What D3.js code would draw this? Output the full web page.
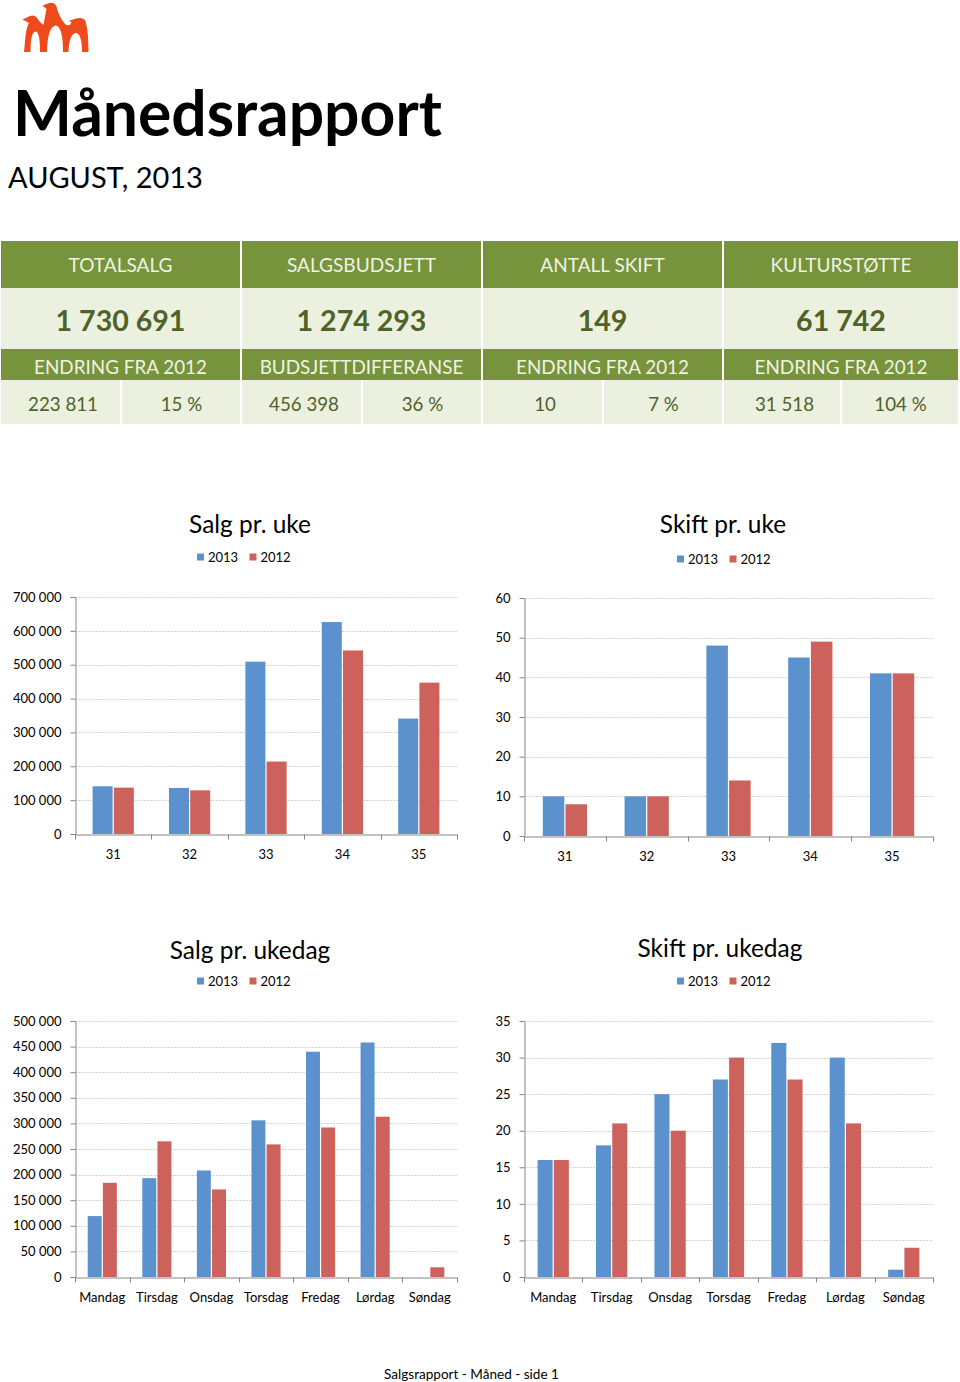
<!DOCTYPE html>
<html><head><meta charset="utf-8">
<script src="https://cdn.jsdelivr.net/npm/d3@7"></script>
<style>html,body{margin:0;padding:0;background:#fff;} svg{display:block;font-family:Lato,'Open Sans',sans-serif;}</style>
</head><body><svg id="c" width="960" height="1382"></svg>
<script>
// ---------- data ----------
const reportTitle = "Månedsrapport";
const reportSubtitle = "AUGUST, 2013";
const kpiHeaders = ["TOTALSALG", "SALGSBUDSJETT", "ANTALL SKIFT", "KULTURSTØTTE"];
const kpiValues = ["1 730 691", "1 274 293", "149", "61 742"];
const kpiSubHeaders = ["ENDRING FRA 2012", "BUDSJETTDIFFERANSE", "ENDRING FRA 2012", "ENDRING FRA 2012"];
const kpiSubValuesA = ["223 811", "456 398", "10", "31 518"];
const kpiSubValuesB = ["15 %", "36 %", "7 %", "104 %"];

const seriesNames = ["2013", "2012"];
const weeks = ["31", "32", "33", "34", "35"];
const salgUke2013 = [141000, 136000, 509000, 626000, 341000];
const salgUke2012 = [137000, 129000, 214000, 542000, 447000];
const salgUkeTicks = [0, 100000, 200000, 300000, 400000, 500000, 600000, 700000];
const skiftUke2013 = [10, 10, 48, 45, 41];
const skiftUke2012 = [8, 10, 14, 49, 41];
const skiftUkeTicks = [0, 10, 20, 30, 40, 50, 60];

const days = ["Mandag", "Tirsdag", "Onsdag", "Torsdag", "Fredag", "Lørdag", "Søndag"];
const salgDag2013 = [119000, 193000, 208000, 306000, 440000, 458000, 0];
const salgDag2012 = [184000, 265000, 171000, 259000, 292000, 313000, 19000];
const salgDagTicks = [0, 50000, 100000, 150000, 200000, 250000, 300000, 350000, 400000, 450000, 500000];
const skiftDag2013 = [16, 18, 25, 27, 32, 30, 1];
const skiftDag2012 = [16, 21, 20, 30, 27, 21, 4];
const skiftDagTicks = [0, 5, 10, 15, 20, 25, 30, 35];

const footerText = "Salgsrapport - Måned - side 1";

// ---------- setup ----------
const svg = d3.select("#c");
svg.append("rect").attr("width", 960).attr("height", 1382).attr("fill", "#fff");
const loc = d3.formatLocale({decimal: ",", thousands: " ", grouping: [3], currency: ["", ""]});
const fmt = loc.format(",d");
const C13 = "#5B92CD", C12 = "#CD625C";
const GREEN = "#77933C", LIGHT = "#EBF1DE", DARK = "#4F6228";

function fitSize(text, weight, targetW) {
  const t = svg.append("text").attr("font-size", 20).attr("font-weight", weight).text(text);
  const w = t.node().getComputedTextLength();
  t.remove();
  return 20 * targetW / w;
}

// ---------- logo ----------
svg.append("path")
  .attr("fill", "#EF4A1E")
  .attr("d", "M24,52 L25.5,36 Q26.5,27 29,23 L22.5,19.5 L30,16 Q35,14.5 37.5,18.5 Q40,23 43.5,25 Q45,16 46.5,9 L42.5,5.5 L49.5,3 Q54.5,2 56.5,6.5 Q59,17 65,24 Q67,26 70,25 Q71,23 71.5,22 L68.5,21 L76,18.5 Q83,17 85.5,21 Q87.5,28 88,36 L88.5,52 L82,52 Q82,34 76,33 Q69,34 68.5,52 L63,52 Q63,26 55.5,25.5 Q47.5,27 47,52 L40,52 Q40,31.5 35.5,31.5 Q30.5,32 30.5,52 Z");

// ---------- titles ----------
svg.append("text").attr("x", 13).attr("y", 136).attr("font-weight", 700)
  .attr("font-size", fitSize(reportTitle, 700, 429)).attr("fill", "#000").text(reportTitle);
svg.append("text").attr("x", 8).attr("y", 188).attr("font-weight", 400)
  .attr("font-size", fitSize(reportSubtitle, 400, 195)).attr("fill", "#000").text(reportSubtitle);

// ---------- KPI table ----------
const cols = [[1, 240], [242, 481], [483, 722], [724, 958]];
const tb = svg.append("g");
const hdrFs = fitSize(kpiHeaders[0], 400, 104);
const valFs = fitSize(kpiValues[0], 700, 130);
const subFs = fitSize(kpiSubHeaders[0], 400, 173);
const botFs = fitSize(kpiSubValuesA[0], 400, 70);
cols.forEach((c, i) => {
  const [a, b] = c, cx = (a + b) / 2, mid = Math.round(cx);
  tb.append("rect").attr("x", a).attr("y", 241).attr("width", b - a).attr("height", 47).attr("fill", GREEN);
  tb.append("rect").attr("x", a).attr("y", 288).attr("width", b - a).attr("height", 61).attr("fill", LIGHT);
  tb.append("rect").attr("x", a).attr("y", 349).attr("width", b - a).attr("height", 31).attr("fill", GREEN);
  tb.append("rect").attr("x", a).attr("y", 380).attr("width", mid - a - 1).attr("height", 44).attr("fill", LIGHT);
  tb.append("rect").attr("x", mid + 1).attr("y", 380).attr("width", b - mid - 1).attr("height", 44).attr("fill", LIGHT);
  tb.append("text").attr("x", cx).attr("y", 272).attr("text-anchor", "middle").attr("font-size", hdrFs)
    .attr("fill", "#EEF3E4").text(kpiHeaders[i]);
  tb.append("text").attr("x", cx).attr("y", 331).attr("text-anchor", "middle").attr("font-size", valFs)
    .attr("font-weight", 700).attr("fill", DARK).text(kpiValues[i]);
  tb.append("text").attr("x", cx).attr("y", 374).attr("text-anchor", "middle").attr("font-size", subFs)
    .attr("fill", "#EEF3E4").text(kpiSubHeaders[i]);
  tb.append("text").attr("x", (a + mid) / 2 + 2).attr("y", 411).attr("text-anchor", "middle").attr("font-size", botFs)
    .attr("fill", DARK).text(kpiSubValuesA[i]);
  tb.append("text").attr("x", (mid + b) / 2 + 1).attr("y", 411).attr("text-anchor", "middle").attr("font-size", botFs)
    .attr("fill", DARK).text(kpiSubValuesB[i]);
});

// ---------- charts ----------
const chartTitleFs = fitSize("Salg pr. uke", 400, 122);

function barChart(cfg) {
  const g = svg.append("g");
  const y = d3.scaleLinear().domain([0, d3.max(cfg.ticks)]).range([cfg.y0, cfg.yTop]);
  const x = d3.scaleBand().domain(cfg.cats).range([cfg.x0, cfg.x1]).padding(0);
  const bw = x.bandwidth(), gap = bw * 0.8 / 3.6;
  const xs = d3.scaleBand().domain(seriesNames).range([gap, bw - gap]).padding(0);

  // title + legend
  g.append("text").attr("x", cfg.tx).attr("y", cfg.ty).attr("text-anchor", "middle")
    .attr("font-size", chartTitleFs).attr("fill", "#000").text(cfg.title);
  const lg = g.append("g").attr("transform", `translate(${cfg.lx},${cfg.ly})`);
  [[0, C13, seriesNames[0]], [52.5, C12, seriesNames[1]]].forEach(([dx, col, nm]) => {
    lg.append("rect").attr("x", dx).attr("y", -3.5).attr("width", 7).attr("height", 7).attr("fill", col);
    lg.append("text").attr("x", dx + 11).attr("y", 5).attr("font-size", 13).attr("fill", "#000").text(nm);
  });

  // gridlines
  g.selectAll("line.grid").data(cfg.ticks.filter(t => t > 0)).join("line")
    .attr("class", "grid").attr("x1", cfg.x0).attr("x2", cfg.x1)
    .attr("y1", d => Math.round(y(d)) + 0.5).attr("y2", d => Math.round(y(d)) + 0.5)
    .attr("stroke", "#D4D4D4").attr("stroke-width", 1).attr("stroke-dasharray", "2,1");

  // bars
  const rows = cfg.cats.map((c, i) => ({c, vals: [{k: seriesNames[0], v: cfg.a[i]}, {k: seriesNames[1], v: cfg.b[i]}]}));
  g.selectAll("g.cat").data(rows).join("g").attr("class", "cat")
    .attr("transform", d => `translate(${x(d.c)},0)`)
    .selectAll("rect").data(d => d.vals.filter(v => v.v > 0)).join("rect")
    .attr("x", d => xs(d.k) + 0.6).attr("width", xs.bandwidth() - 1.2)
    .attr("y", d => y(d.v)).attr("height", d => y(0) - y(d.v))
    .attr("fill", d => d.k === seriesNames[0] ? C13 : C12);

  // y axis
  const ya = g.append("g").attr("transform", `translate(${cfg.x0 + 0.5},0)`)
    .call(d3.axisLeft(y).tickValues(cfg.ticks).tickFormat(cfg.fmt).tickSize(5).tickSizeOuter(0).tickPadding(9));
  ya.selectAll("path,line").attr("stroke", "#868686");
  ya.selectAll("text").attr("font-size", 13).attr("font-family", "Lato").attr("fill", "#000");

  // x axis
  const xa = g.append("g").attr("transform", `translate(0,${Math.round(y(0)) + 0.5})`)
    .call(d3.axisBottom(x).tickSize(0).tickPadding(15).tickSizeOuter(0));
  xa.select(".domain").attr("stroke", "#868686");
  xa.selectAll("text").attr("font-size", 13).attr("font-family", "Lato").attr("fill", "#000");
  const bounds = cfg.cats.map(c => x(c)).concat([cfg.x1]);
  xa.selectAll("line.bt").data(bounds).join("line").attr("class", "bt")
    .attr("x1", d => Math.round(d) + 0.5).attr("x2", d => Math.round(d) + 0.5)
    .attr("y1", 0).attr("y2", 5).attr("stroke", "#868686");
}

barChart({title: "Salg pr. uke", tx: 250, ty: 533, lx: 197, ly: 557,
  cats: weeks, a: salgUke2013, b: salgUke2012, ticks: salgUkeTicks, fmt: fmt,
  x0: 75, x1: 457, yTop: 597, y0: 834});
barChart({title: "Skift pr. uke", tx: 723, ty: 533, lx: 677, ly: 559,
  cats: weeks, a: skiftUke2013, b: skiftUke2012, ticks: skiftUkeTicks, fmt: d3.format("d"),
  x0: 524, x1: 933, yTop: 598, y0: 836});
barChart({title: "Salg pr. ukedag", tx: 250, ty: 959, lx: 197, ly: 981,
  cats: days, a: salgDag2013, b: salgDag2012, ticks: salgDagTicks, fmt: fmt,
  x0: 75, x1: 457, yTop: 1021, y0: 1277});
barChart({title: "Skift pr. ukedag", tx: 720, ty: 957, lx: 677, ly: 981,
  cats: days, a: skiftDag2013, b: skiftDag2012, ticks: skiftDagTicks, fmt: d3.format("d"),
  x0: 524, x1: 933, yTop: 1021, y0: 1277});

// ---------- footer ----------
svg.append("text").attr("x", 471.5).attr("y", 1379).attr("text-anchor", "middle")
  .attr("font-size", fitSize(footerText, 400, 175)).attr("fill", "#000").text(footerText);
</script></body></html>
